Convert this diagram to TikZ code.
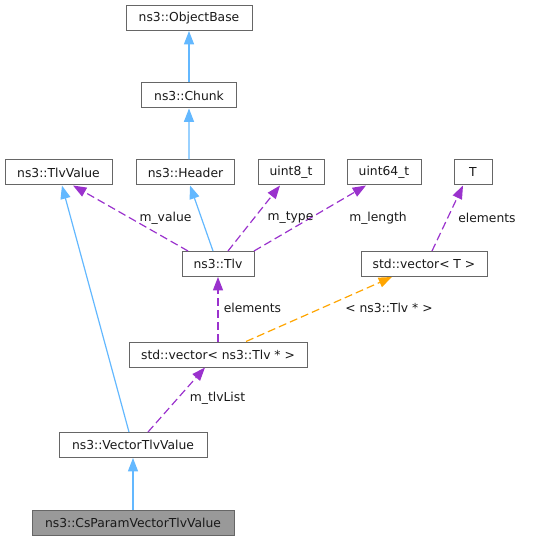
\documentclass[tikz,border=0pt]{standalone}
\usepackage{fontspec}
\setmainfont{DejaVu Sans}
\usetikzlibrary{arrows.meta}

\definecolor{inhblue}{HTML}{63B8FF}
\definecolor{usepurple}{HTML}{9A32CD}
\definecolor{tmplorange}{HTML}{FFA500}
\definecolor{boxgray}{HTML}{666666}
\definecolor{selgray}{HTML}{999999}

\tikzset{
  cls/.style={draw=boxgray, fill=white, line width=0.75pt, minimum height=18.75pt,
    inner sep=0pt, text=black!90, font=\fontsize{9.25}{11}\selectfont},
  inherit/.style={draw=inhblue, line width=0.9pt, -{Triangle[length=10pt,width=7.5pt]}},
  usage/.style={draw=usepurple, line width=0.9pt, dash pattern=on 6pt off 3pt,
    -{Triangle[length=10pt,width=7.5pt]}},
  tmpl/.style={draw=tmplorange, line width=0.9pt, dash pattern=on 6pt off 3pt,
    -{Triangle[length=10pt,width=7.5pt]}},
  lbl/.style={inner sep=0pt, text=black!90, font=\fontsize{9.25}{11}\selectfont}
}

\begin{document}
\begin{tikzpicture}[x=0.75pt,y=-0.75pt]
\useasboundingbox (0,0) rectangle (533,541);

\node[cls, minimum width=94.5pt] (objbase) at (189,18) {ns3::ObjectBase};
\node[cls, minimum width=71.25pt] (chunk) at (189,95.5) {ns3::Chunk};
\node[cls, minimum width=80.25pt] (tlvvalue) at (58.5,172.5) {ns3::TlvValue};
\node[cls, minimum width=73.5pt] (header) at (185.5,172.5) {ns3::Header};
\node[cls, minimum width=49.5pt] (uint8) at (291,172.5) {uint8\_t};
\node[cls, minimum width=55.5pt] (uint64) at (384,172.5) {uint64\_t};
\node[cls, minimum width=28.5pt] (tparam) at (473,172.5) {T};
\node[cls, minimum width=54pt] (tlv) at (218,264) {ns3::Tlv};
\node[cls, minimum width=94.5pt] (vect) at (424,264) {std::vector< T >};
\node[cls, minimum width=133.5pt] (vectlv) at (218,354.5) {std::vector< ns3::Tlv * >};
\node[cls, minimum width=111pt] (vtv) at (133,445) {ns3::VectorTlvValue};
\node[cls, fill=selgray, minimum width=151.5pt] (csparam) at (133,522.5) {ns3::CsParamVectorTlvValue};

\draw[inherit] (chunk) -- (objbase);
\draw[inherit] ([xshift=2.6pt]header.north) -- (chunk.south);
\draw[inherit] ([xshift=-3.75pt]tlv.north) -- ([xshift=3.4pt]header.south);
\draw[usage] ([xshift=-22.5pt]tlv.north) -- ([xshift=10.9pt]tlvvalue.south);
\draw[usage] ([xshift=7.5pt]tlv.north) -- ([xshift=-8.25pt]uint8.south);
\draw[usage] ([xshift=27pt]tlv.north) -- ([xshift=-13.5pt]uint64.south);
\draw[usage] ([xshift=6pt]vect.north) -- ([xshift=-7.5pt]tparam.south);
\draw[usage] (vectlv.north) -- (tlv.south);
\draw[tmpl] ([xshift=21pt]vectlv.north) -- ([xshift=-24pt]vect.south);
\draw[inherit] ([xshift=-3pt]vtv.north) -- ([xshift=2.6pt]tlvvalue.south);
\draw[usage] ([xshift=11.25pt]vtv.north) -- ([xshift=-9.75pt]vectlv.south);
\draw[inherit] (csparam) -- (vtv);

\node[lbl] (lvalue) at (165.5,218) {m\_value};
\node[lbl] (ltype) at (290.5,218) {m\_type};
\node[lbl] (llength) at (378,218) {m\_length};
\node[lbl] (lelemt) at (487,218) {elements};
\node[lbl] (lelemtlv) at (252.5,308) {elements};
\node[lbl] (ltmpl) at (389,308) {< ns3::Tlv * >};
\node[lbl] (llist) at (217.5,398) {m\_tlvList};
\end{tikzpicture}
\end{document}
